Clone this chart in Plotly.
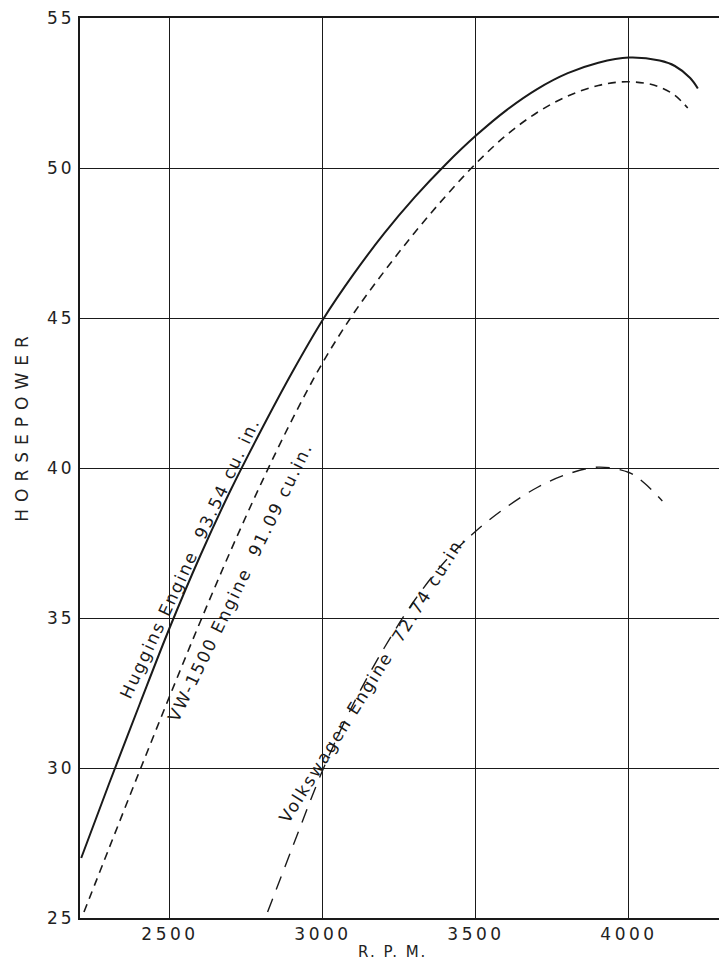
import plotly.graph_objects as go

# Huggins Engine 93.54 cu. in. (solid)
huggins_rpm = [2210, 2300, 2400, 2500, 2600, 2700, 2800, 2900, 3000, 3100, 3200, 3300, 3400,
               3500, 3600, 3700, 3800, 3900, 4000, 4100, 4150, 4200, 4225]
huggins_hp = [27.0, 29.45, 32.1, 34.7, 37.1, 39.3, 41.3, 43.2, 44.95, 46.46, 47.82, 49.03, 50.11,
              51.08, 51.93, 52.63, 53.16, 53.51, 53.68, 53.58, 53.4, 53.0, 52.65]

# VW-1500 Engine 91.09 cu. in. (short dashes)
vw1500_rpm = [2219, 2300, 2400, 2500, 2600, 2700, 2800, 2900, 3000, 3100, 3200, 3300, 3400,
              3500, 3600, 3700, 3800, 3900, 3975, 4050, 4100, 4150, 4192]
vw1500_hp = [25.2, 27.3, 29.88, 32.42, 34.9, 37.28, 39.53, 41.63, 43.53, 45.15, 46.55, 47.85, 49.05,
             50.15, 51.1, 51.85, 52.4, 52.75, 52.87, 52.83, 52.7, 52.42, 52.0]

# Volkswagen Engine 72.74 cu. in. (long dashes)
vw_rpm = [2819, 2900, 3000, 3100, 3200, 3300, 3400, 3500, 3600, 3700, 3800, 3900, 4000, 4050, 4109]
vw_hp = [25.2, 27.35, 29.95, 32.15, 34.0, 35.6, 36.9, 37.9, 38.7, 39.35, 39.8, 40.03, 39.85, 39.5, 38.9]

x_ticks = [2500, 3000, 3500, 4000]
y_ticks = [25, 30, 35, 40, 45, 50, 55]

labels = [
    ("Huggins Engine  93.54 cu. in.", 2565, 37.0, -65),
    ("VW-1500 Engine  91.09 cu.in.", 2729, 36.2, -64),
    ("Volkswagen Engine  72.74 cu.in.", 3163, 33.0, -58),
]

ink = "#1a1a1a"
fam = "DejaVu Sans, Liberation Sans, sans-serif"


def spaced(t, px):
    return '<span style="letter-spacing:%spx">%s</span>' % (px, t)


fig = go.Figure()
fig.add_trace(go.Scatter(x=huggins_rpm, y=huggins_hp, mode="lines", line_shape="spline",
                         line=dict(color=ink, width=2), showlegend=False, hoverinfo="skip"))
fig.add_trace(go.Scatter(x=vw1500_rpm, y=vw1500_hp, mode="lines", line_shape="spline",
                         line=dict(color=ink, width=1.6, dash="8px,6px"), showlegend=False, hoverinfo="skip"))
fig.add_trace(go.Scatter(x=vw_rpm, y=vw_hp, mode="lines", line_shape="spline",
                         line=dict(color=ink, width=1.4, dash="14px,10px"), showlegend=False, hoverinfo="skip"))

for text, x, y, ang in labels:
    fig.add_annotation(x=x, y=y, text=spaced(text, 2), textangle=ang, showarrow=False,
                       xanchor="center", yanchor="middle",
                       font=dict(family=fam, size=17, color=ink))

# axis titles
fig.add_annotation(xref="paper", yref="paper", x=-0.0903, y=0.547, text=spaced("HORSEPOWER", 7),
                   textangle=-90, showarrow=False, xanchor="center", yanchor="middle",
                   font=dict(family=fam, size=17, color="#222"))
fig.add_annotation(xref="paper", yref="paper", x=0.4875, y=-0.0378, text=spaced("R. P. M.", 2),
                   showarrow=False, xanchor="center", yanchor="middle",
                   font=dict(family=fam, size=15, color="#222"))

fig.update_layout(
    width=719, height=956,
    margin=dict(l=72, r=5, t=10, b=46, autoexpand=False),
    paper_bgcolor="white", plot_bgcolor="white",
    font=dict(family=fam, color=ink),
)
fig.update_xaxes(range=[2206, 4304], tickvals=x_ticks, ticktext=[spaced(str(v), 3.5) for v in x_ticks],
                 showgrid=True, gridcolor=ink, gridwidth=1.3, zeroline=False,
                 showline=True, linecolor=ink, linewidth=2, mirror=True, automargin=False,
                 ticks="", ticklabeloverflow="allow", tickfont=dict(family=fam, size=17, color="#222"))
fig.update_yaxes(range=[25, 55], tickvals=y_ticks, ticktext=[spaced(str(v), 3) for v in y_ticks],
                 showgrid=True, gridcolor=ink, gridwidth=1.3, zeroline=False,
                 showline=True, linecolor=ink, linewidth=2, mirror=True, automargin=False,
                 ticks="", ticklabeloverflow="allow", tickfont=dict(family=fam, size=17, color="#222"))

fig.write_html("out.html")
